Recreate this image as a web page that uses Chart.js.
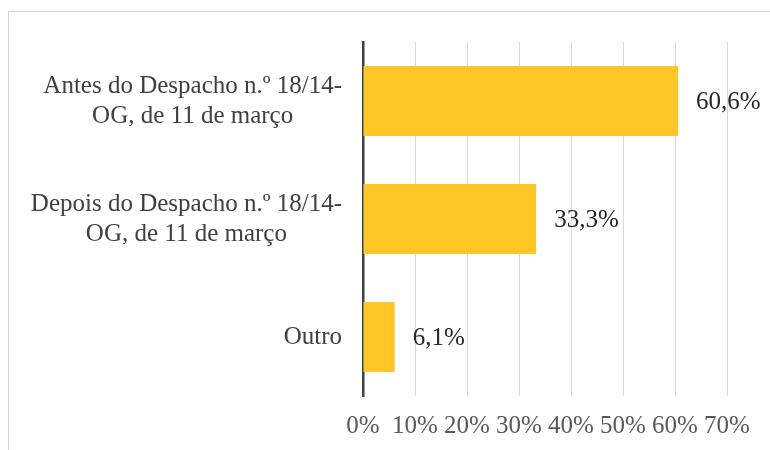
<!DOCTYPE html>
<html>
<head>
<meta charset="utf-8">
<script src="https://cdn.jsdelivr.net/npm/chart.js@4/dist/chart.umd.min.js"></script>
<style>
  html, body { margin: 0; padding: 0; background: #fff; }
  #wrap { width: 770px; height: 450px; }
</style>
</head>
<body>
<div id="wrap"><canvas id="chart" width="770" height="450"></canvas></div>
<script>
const categories = [
  ['Antes do Despacho n.º 18/14-', 'OG, de 11 de março'],
  ['Depois do Despacho n.º 18/14-', 'OG, de 11 de março'],
  ['Outro']
];
const values = [60.6, 33.3, 6.1];
const valueLabels = ['60,6%', '33,3%', '6,1%'];
const tickLabels = ['0%', '10%', '20%', '30%', '40%', '50%', '60%', '70%'];

const FONT = '"Liberation Serif", "Times New Roman", serif';

// frame around the chart (top and left edges visible)
const framePlugin = {
  id: 'frame',
  beforeDraw(chart) {
    const ctx = chart.ctx;
    ctx.save();
    ctx.strokeStyle = '#d4d4d4';
    ctx.lineWidth = 1;
    ctx.strokeRect(8.5, 11.5, 900, 600);
    ctx.restore();
  }
};

// category labels: lines centered on each other, block right-aligned to the axis
const catLabelPlugin = {
  id: 'catLabels',
  afterDraw(chart) {
    const ctx = chart.ctx;
    const y = chart.scales.y;
    const right = chart.chartArea.left - 21;
    const lh = 30;
    ctx.save();
    ctx.font = '25px ' + FONT;
    ctx.fillStyle = '#404040';
    ctx.textAlign = 'center';
    ctx.textBaseline = 'middle';
    categories.forEach((lines, i) => {
      const widest = Math.max(...lines.map(l => ctx.measureText(l).width));
      const cx = right - widest / 2;
      const cy = y.getPixelForValue(i);
      const top = cy - (lines.length - 1) * lh / 2;
      lines.forEach((l, j) => ctx.fillText(l, cx, top + j * lh));
    });
    ctx.restore();
  }
};

// value labels just past the end of each bar
const valueLabelPlugin = {
  id: 'valueLabels',
  afterDatasetsDraw(chart) {
    const ctx = chart.ctx;
    const meta = chart.getDatasetMeta(0);
    ctx.save();
    ctx.font = '25px ' + FONT;
    ctx.fillStyle = '#262626';
    ctx.textAlign = 'left';
    ctx.textBaseline = 'middle';
    meta.data.forEach((bar, i) => {
      ctx.fillText(valueLabels[i], bar.x + 18, bar.y + 1);
    });
    ctx.restore();
  }
};

new Chart(document.getElementById('chart'), {
  type: 'bar',
  data: {
    labels: categories.map(c => c.join(' ')),
    datasets: [{
      data: values,
      backgroundColor: '#FFC628',
      borderWidth: 0,
      barPercentage: 0.593,
      categoryPercentage: 1
    }]
  },
  options: {
    indexAxis: 'y',
    responsive: false,
    animation: false,
    layout: { padding: { left: 363, top: 42, right: 43, bottom: 9 } },
    plugins: { legend: { display: false }, tooltip: { enabled: false } },
    scales: {
      x: {
        min: 0,
        max: 70,
        afterFit: s => { s.height = 45; },
        ticks: {
          stepSize: 10,
          padding: 15,
          minRotation: 0,
          maxRotation: 0,
          autoSkip: false,
          color: '#595959',
          font: { family: FONT, size: 25 },
          callback: (v, i) => tickLabels[i]
        },
        grid: { color: '#d9d9d9', lineWidth: 1, drawTicks: false },
        border: { display: false }
      },
      y: {
        afterFit: s => { s.width = 0; },
        ticks: { display: false },
        grid: { display: false },
        border: { color: '#404040', width: 2.5 }
      }
    }
  },
  plugins: [framePlugin, catLabelPlugin, valueLabelPlugin]
});
</script>
</body>
</html>
